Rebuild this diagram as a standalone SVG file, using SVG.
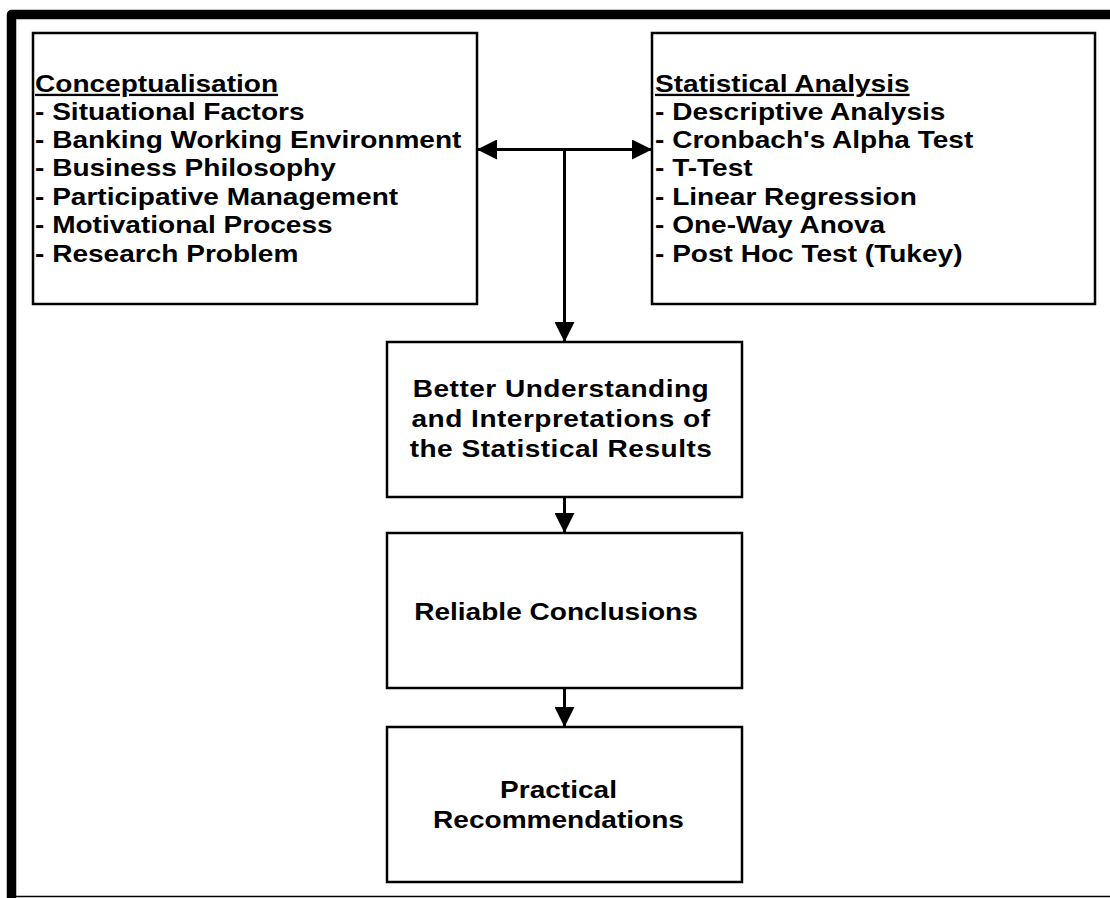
<svg xmlns="http://www.w3.org/2000/svg" width="1110" height="898" viewBox="0 0 1110 898">
  <defs>
    <style>
      .box { fill: #fff; stroke: #000; stroke-width: 2.5; }
      .txt { font-family: "Liberation Sans", Arial, sans-serif; font-weight: bold; font-size: 23px; fill: #000; }
      .mid { letter-spacing: 0.4px; }
      .conn { fill: none; stroke: #000; stroke-width: 3; }
    </style>
    <marker id="arrow" viewBox="0 0 20 20" refX="20" refY="10" markerWidth="20" markerHeight="20" markerUnits="userSpaceOnUse" orient="auto-start-reverse">
      <path d="M0,0 L20,10 L0,20 z" fill="#000"/>
    </marker>
  </defs>

  <rect width="1110" height="898" fill="#fff"/>

  <!-- page frame: heavy top and left rule, hairline at the foot -->
  <g id="frame">
    <path d="M11.5 898 V14.5 H1110" fill="none" stroke="#000" stroke-width="9.5" stroke-linejoin="round"/>
    <line x1="7" y1="896.5" x2="1110" y2="896.5" stroke="#000" stroke-width="1.5"/>
  </g>

  <g id="connectors">
    <line class="conn" x1="477" y1="149.5" x2="652" y2="149.5" marker-start="url(#arrow)" marker-end="url(#arrow)"/>
    <line class="conn" x1="564.5" y1="149.5" x2="564.5" y2="342" marker-end="url(#arrow)"/>
    <line class="conn" x1="564.5" y1="497" x2="564.5" y2="533" marker-end="url(#arrow)"/>
    <line class="conn" x1="564.5" y1="688" x2="564.5" y2="727" marker-end="url(#arrow)"/>
  </g>

  <g id="conceptualisation">
    <rect class="box" x="33" y="33" width="444" height="271"/>
    <g class="txt" transform="translate(35 0) scale(1.22 1)">
      <text x="0" y="92" text-decoration="underline">Conceptualisation</text>
      <text x="0" y="120">- Situational Factors</text>
      <text x="0" y="148">- Banking Working Environment</text>
      <text x="0" y="176">- Business Philosophy</text>
      <text x="0" y="205">- Participative Management</text>
      <text x="0" y="233">- Motivational Process</text>
      <text x="0" y="262">- Research Problem</text>
    </g>
  </g>

  <g id="statistical-analysis">
    <rect class="box" x="652" y="33" width="443" height="271"/>
    <g class="txt" transform="translate(655 0) scale(1.22 1)">
      <text x="0" y="92" text-decoration="underline">Statistical Analysis</text>
      <text x="0" y="120">- Descriptive Analysis</text>
      <text x="0" y="148">- Cronbach's Alpha Test</text>
      <text x="0" y="176">- T-Test</text>
      <text x="0" y="205">- Linear Regression</text>
      <text x="0" y="233">- One-Way Anova</text>
      <text x="0" y="262">- Post Hoc Test (Tukey)</text>
    </g>
  </g>

  <g id="better-understanding">
    <rect class="box" x="387" y="342" width="355" height="155"/>
    <g class="txt mid" text-anchor="middle" transform="translate(561 0) scale(1.22 1)">
      <text x="0" y="397">Better Understanding</text>
      <text x="0" y="427">and Interpretations of</text>
      <text x="0" y="457">the Statistical Results</text>
    </g>
  </g>

  <g id="reliable-conclusions">
    <rect class="box" x="387" y="533" width="355" height="155"/>
    <g class="txt" text-anchor="middle" transform="translate(556 0) scale(1.22 1)">
      <text x="0" y="620">Reliable Conclusions</text>
    </g>
  </g>

  <g id="practical-recommendations">
    <rect class="box" x="387" y="727" width="355" height="155"/>
    <g class="txt" text-anchor="middle" transform="translate(558.5 0) scale(1.22 1)">
      <text x="0" y="798">Practical</text>
      <text x="0" y="828">Recommendations</text>
    </g>
  </g>
</svg>
